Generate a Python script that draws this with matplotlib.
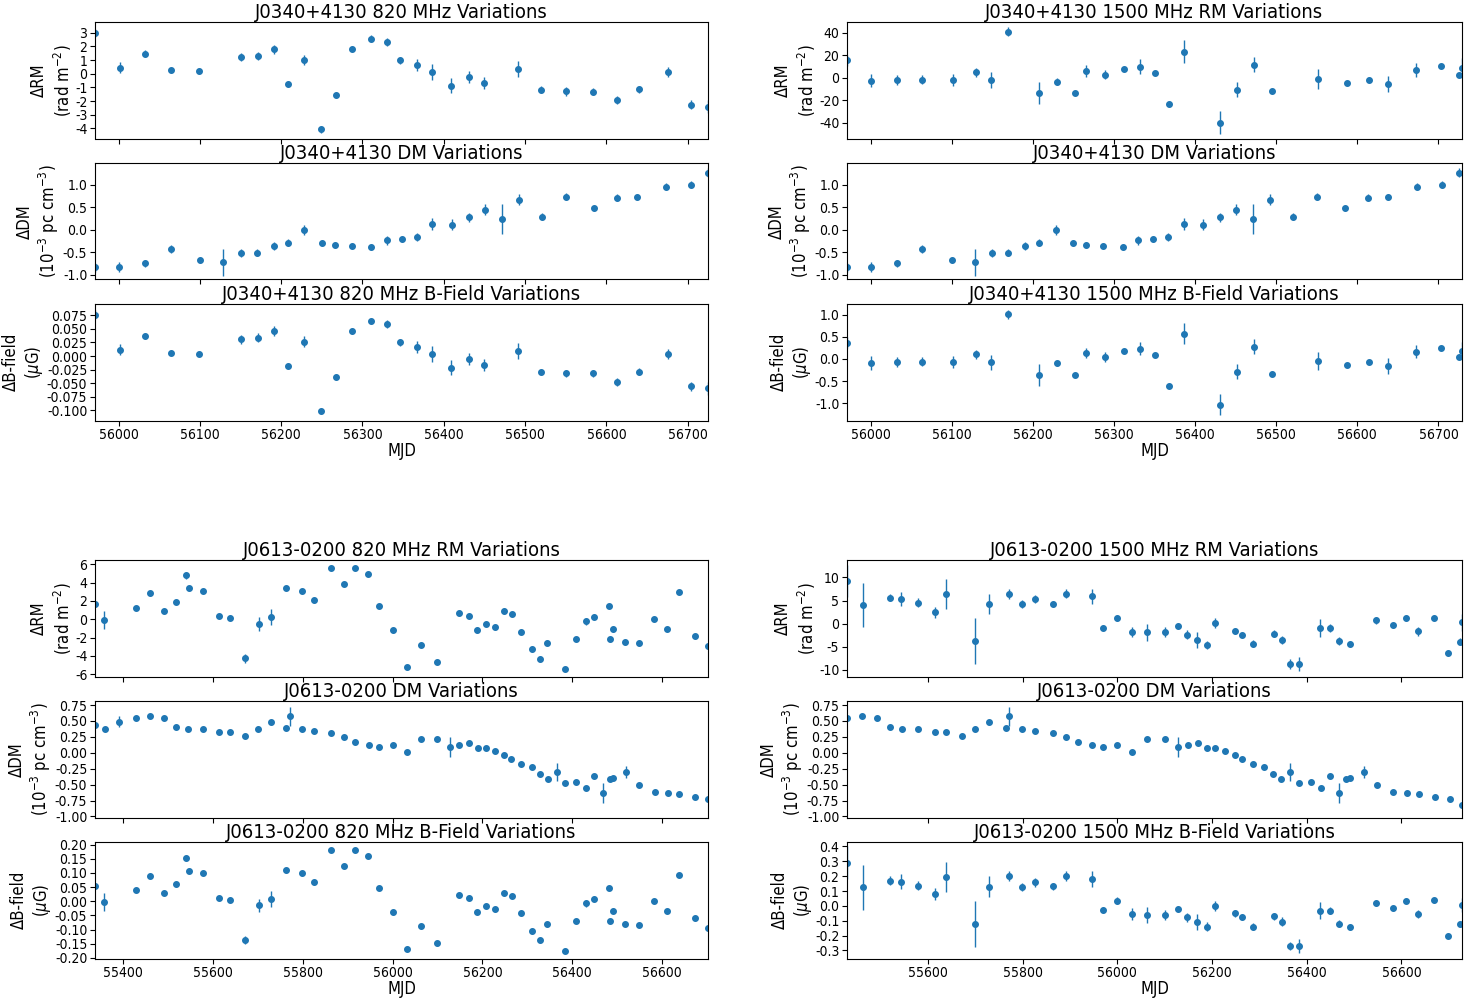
import numpy as np
import matplotlib
matplotlib.use("Agg")
import matplotlib.pyplot as plt
from matplotlib.ticker import MultipleLocator

plt.rcParams['font.family'] = ['DejaVu Sans']
plt.rcParams['font.stretch'] = 'condensed'
plt.rcParams['axes.unicode_minus'] = False

# ---- J0340+4130 ----
j0340_mjd_820 = [55971, 56002, 56032, 56064, 56099, 56150, 56171, 56191, 56208, 56228,
                 56249, 56267, 56287, 56311, 56330, 56346, 56367, 56385, 56409, 56431,
                 56449, 56491, 56519, 56550, 56584, 56613, 56640, 56676, 56704, 56725]
j0340_rm_820 = [3.0, 0.45, 1.47, 0.25, 0.18, 1.2, 1.3, 1.78, -0.75, 1.0,
                -4.06, -1.57, 1.83, 2.56, 2.34, 0.98, 0.64, 0.13, -0.87, -0.26,
                -0.7, 0.35, -1.18, -1.3, -1.33, -1.91, -1.14, 0.13, -2.26, -2.4]
j0340_rm_820_err = [0.3, 0.4, 0.25, 0.2, 0.2, 0.3, 0.3, 0.35, 0.25, 0.4,
                    0.25, 0.2, 0.2, 0.25, 0.3, 0.25, 0.45, 0.6, 0.55, 0.45,
                    0.45, 0.6, 0.25, 0.3, 0.25, 0.3, 0.25, 0.35, 0.35, 0.5]
j0340_b_820 = [0.076, 0.0117, 0.0367, 0.0063, 0.0044, 0.0306, 0.0336, 0.0458, -0.018, 0.0263,
               -0.1008, -0.0388, 0.0464, 0.0647, 0.0592, 0.025, 0.0172, 0.0038, -0.0211, -0.0059,
               -0.0168, 0.0093, -0.029, -0.032, -0.032, -0.048, -0.0284, 0.0038, -0.0558, -0.0588]
j0340_b_820_err = [0.008, 0.01, 0.006, 0.005, 0.005, 0.008, 0.008, 0.009, 0.006, 0.01,
                   0.006, 0.005, 0.005, 0.006, 0.008, 0.006, 0.011, 0.015, 0.014, 0.011,
                   0.011, 0.015, 0.006, 0.007, 0.006, 0.007, 0.006, 0.009, 0.009, 0.012]

j0340_mjd_dm = [55971, 56000, 56033, 56064, 56100, 56129, 56150, 56170, 56191, 56208,
                56228, 56250, 56266, 56287, 56311, 56330, 56348, 56367, 56386, 56410,
                56431, 56451, 56472, 56492, 56521, 56550, 56585, 56613, 56638, 56673,
                56704, 56725]
j0340_dm = [-0.84, -0.83, -0.75, -0.43, -0.68, -0.73, -0.52, -0.51, -0.37, -0.29,
            -0.01, -0.30, -0.34, -0.36, -0.39, -0.24, -0.21, -0.16, 0.12, 0.11,
            0.27, 0.44, 0.24, 0.66, 0.29, 0.73, 0.47, 0.71, 0.73, 0.95,
            1.00, 1.26]
j0340_dm_err = [0.1, 0.12, 0.08, 0.08, 0.07, 0.3, 0.08, 0.08, 0.09, 0.08,
                0.12, 0.07, 0.06, 0.06, 0.06, 0.1, 0.07, 0.09, 0.13, 0.12,
                0.1, 0.12, 0.33, 0.12, 0.08, 0.08, 0.06, 0.08, 0.07, 0.08,
                0.08, 0.1]

j0340_mjd_1500 = [55971, 56000, 56033, 56064, 56102, 56130, 56149, 56170, 56208, 56230,
                  56252, 56266, 56289, 56312, 56332, 56350, 56368, 56386, 56431, 56452,
                  56473, 56495, 56551, 56587, 56614, 56638, 56672, 56703, 56725, 56729]
j0340_rm_1500 = [15.4, -2.7, -2.1, -1.8, -2.1, 4.7, -2.4, 40.9, -13.6, -3.6,
                 -13.9, 5.9, 2.7, 7.7, 9.8, 3.9, -23.4, 23.1, -40.0, -10.7,
                 11.6, -12.1, -1.5, -4.7, -1.8, -5.6, 6.8, 10.4, 2.1, 8.3]
j0340_rm_1500_err = [5, 6, 4.5, 4, 5, 4, 7, 4, 10, 3,
                     2, 5, 4, 2, 6.5, 2, 2.5, 10, 10, 7,
                     7, 2, 9, 2, 2, 7, 6, 2, 2, 9]
j0340_b_1500 = [0.37, -0.09, -0.07, -0.06, -0.07, 0.10, -0.08, 1.01, -0.36, -0.10,
                -0.37, 0.13, 0.05, 0.18, 0.23, 0.08, -0.60, 0.57, -1.03, -0.29,
                0.27, -0.33, -0.05, -0.14, -0.06, -0.16, 0.16, 0.25, 0.04, 0.19]
j0340_b_1500_err = [0.13, 0.15, 0.12, 0.1, 0.13, 0.1, 0.17, 0.1, 0.25, 0.05,
                    0.04, 0.12, 0.11, 0.05, 0.15, 0.04, 0.06, 0.24, 0.24, 0.17,
                    0.17, 0.05, 0.2, 0.05, 0.04, 0.17, 0.15, 0.05, 0.05, 0.2]

# ---- J0613-0200 ----
j0613_mjd_820 = [55338, 55359, 55429, 55461, 55492, 55519, 55541, 55548, 55578, 55615,
                 55639, 55672, 55702, 55729, 55763, 55799, 55826, 55863, 55891, 55917,
                 55946, 55969, 56001, 56032, 56063, 56099, 56149, 56170, 56189, 56207,
                 56227, 56248, 56266, 56286, 56310, 56329, 56344, 56384, 56408, 56430,
                 56449, 56482, 56484, 56490, 56517, 56549, 56581, 56611, 56638, 56673,
                 56702]
j0613_rm_820 = [1.65, -0.1, 1.24, 2.82, 0.88, 1.87, 4.79, 3.37, 3.11, 0.37,
                0.18, -4.28, -0.48, 0.22, 3.44, 3.07, 2.08, 5.63, 3.91, 5.63,
                4.94, 1.43, -1.21, -5.27, -2.78, -4.65, 0.69, 0.40, -1.17, -0.51,
                -0.88, 0.88, 0.58, -1.35, -3.26, -4.32, -2.56, -5.45, -2.16, -0.22,
                0.29, 1.46, -2.20, -1.06, -2.53, -2.64, 0.04, -1.06, 2.93, -1.87,
                -2.93]
j0613_rm_820_err = [0.3, 1.0, 0.25, 0.3, 0.25, 0.25, 0.35, 0.3, 0.25, 0.25,
                    0.25, 0.45, 0.75, 0.9, 0.25, 0.25, 0.25, 0.2, 0.2, 0.2,
                    0.2, 0.25, 0.3, 0.3, 0.3, 0.25, 0.3, 0.3, 0.3, 0.25,
                    0.3, 0.3, 0.25, 0.3, 0.35, 0.3, 0.3, 0.25, 0.25, 0.4,
                    0.25, 0.25, 0.25, 0.3, 0.25, 0.25, 0.25, 0.25, 0.2, 0.25,
                    0.3]
j0613_b_820 = [0.054, -0.002, 0.04, 0.09, 0.029, 0.06, 0.152, 0.108, 0.1, 0.012,
               0.006, -0.138, -0.015, 0.007, 0.109, 0.098, 0.067, 0.18, 0.125, 0.18,
               0.158, 0.046, -0.039, -0.168, -0.089, -0.149, 0.022, 0.013, -0.037, -0.016,
               -0.028, 0.028, 0.019, -0.043, -0.104, -0.138, -0.082, -0.174, -0.069, -0.007,
               0.009, 0.047, -0.07, -0.034, -0.081, -0.084, 0.001, -0.034, 0.094, -0.06,
               -0.094]
j0613_b_820_err = [0.009, 0.032, 0.008, 0.009, 0.008, 0.008, 0.011, 0.009, 0.008, 0.008,
                   0.008, 0.014, 0.024, 0.029, 0.008, 0.008, 0.008, 0.006, 0.006, 0.006,
                   0.006, 0.008, 0.009, 0.009, 0.009, 0.008, 0.009, 0.009, 0.009, 0.008,
                   0.009, 0.009, 0.008, 0.009, 0.011, 0.009, 0.009, 0.008, 0.008, 0.012,
                   0.008, 0.008, 0.008, 0.009, 0.008, 0.008, 0.008, 0.008, 0.006, 0.008,
                   0.009]

j0613_mjd_dm = [55338, 55361, 55392, 55429, 55461, 55492, 55519, 55545, 55578, 55615,
                55639, 55672, 55700, 55729, 55764, 55772, 55799, 55826, 55864, 55891,
                55917, 55947, 55970, 56000, 56032, 56063, 56100, 56128, 56149, 56170,
                56190, 56207, 56228, 56248, 56264, 56286, 56310, 56329, 56346, 56365,
                56384, 56409, 56430, 56449, 56469, 56484, 56491, 56520, 56549, 56583,
                56612, 56637, 56672, 56702, 56728]
j0613_dm = [0.43, 0.38, 0.49, 0.55, 0.57, 0.54, 0.41, 0.37, 0.38, 0.32,
            0.33, 0.26, 0.38, 0.48, 0.39, 0.57, 0.37, 0.34, 0.31, 0.24,
            0.17, 0.13, 0.09, 0.12, 0.02, 0.21, 0.21, 0.09, 0.12, 0.15,
            0.07, 0.07, 0.03, -0.03, -0.10, -0.17, -0.22, -0.33, -0.41, -0.30,
            -0.48, -0.46, -0.55, -0.37, -0.63, -0.41, -0.40, -0.30, -0.51, -0.61,
            -0.63, -0.65, -0.70, -0.72, -0.82]
j0613_dm_err = [0.03, 0.03, 0.08, 0.03, 0.03, 0.03, 0.03, 0.03, 0.03, 0.03,
                0.03, 0.03, 0.04, 0.04, 0.03, 0.15, 0.03, 0.03, 0.03, 0.03,
                0.03, 0.03, 0.03, 0.03, 0.03, 0.03, 0.03, 0.15, 0.03, 0.03,
                0.03, 0.03, 0.03, 0.03, 0.03, 0.03, 0.03, 0.03, 0.03, 0.14,
                0.03, 0.03, 0.03, 0.03, 0.16, 0.03, 0.03, 0.10, 0.03, 0.03,
                0.03, 0.03, 0.03, 0.03, 0.04]

j0613_mjd_1500 = [55429, 55462, 55519, 55544, 55579, 55615, 55639, 55699, 55729, 55772,
                  55799, 55826, 55864, 55891, 55947, 55970, 55999, 56032, 56063, 56100,
                  56128, 56148, 56169, 56190, 56207, 56249, 56264, 56286, 56330, 56347,
                  56365, 56384, 56429, 56450, 56469, 56491, 56547, 56583, 56610, 56635,
                  56669, 56699, 56724, 56728]
j0613_rm_1500 = [9.2, 4.1, 5.6, 5.3, 4.5, 2.5, 6.4, -3.8, 4.3, 6.5,
                 4.2, 5.3, 4.3, 6.5, 5.9, -0.9, 1.2, -1.8, -1.9, -1.9,
                 -0.55, -2.4, -3.6, -4.6, 0.1, -1.6, -2.4, -4.4, -2.2, -3.5,
                 -8.8, -8.8, -1.0, -1.0, -3.8, -4.5, 0.7, -0.4, 1.2, -1.7,
                 1.3, -6.4, -3.9, 0.25]
j0613_rm_1500_err = [3.5, 4.8, 0.8, 1.5, 1.0, 1.2, 3.2, 5.0, 2.2, 1.1,
                     0.9, 0.8, 0.6, 0.9, 1.7, 0.5, 0.7, 1.1, 1.8, 1.1,
                     0.6, 0.9, 1.8, 0.9, 1.0, 0.7, 0.6, 0.8, 0.8, 0.9,
                     1.0, 1.5, 1.9, 0.8, 0.9, 0.7, 0.7, 0.6, 0.6, 0.9,
                     0.6, 0.6, 0.8, 1.8]
j0613_b_1500 = [0.29, 0.125, 0.17, 0.163, 0.136, 0.078, 0.194, -0.12, 0.13, 0.2,
                0.127, 0.16, 0.132, 0.2, 0.18, -0.03, 0.035, -0.056, -0.06, -0.06,
                -0.019, -0.077, -0.11, -0.14, -0.002, -0.05, -0.077, -0.14, -0.07, -0.108,
                -0.27, -0.27, -0.032, -0.032, -0.12, -0.14, 0.02, -0.016, 0.035, -0.054,
                0.037, -0.2, -0.122, 0.006]
j0613_b_1500_err = [0.11, 0.15, 0.03, 0.05, 0.03, 0.04, 0.1, 0.155, 0.07, 0.035,
                    0.03, 0.03, 0.025, 0.035, 0.055, 0.02, 0.025, 0.04, 0.055, 0.035,
                    0.02, 0.03, 0.055, 0.03, 0.035, 0.025, 0.02, 0.025, 0.025, 0.03,
                    0.03, 0.05, 0.055, 0.025, 0.025, 0.02, 0.02, 0.015, 0.015, 0.025,
                    0.015, 0.015, 0.02, 0.05]

RM_LABEL = "ΔRM\n(rad m$^{-2}$)"
DM_LABEL = "ΔDM\n(10$^{-3}$ pc cm$^{-3}$)"
B_LABEL = "ΔB-field\n($\\mu$G)"

W, H = 1481, 998
fig = plt.figure(figsize=(W / 100, H / 100), dpi=100)


def add_panel(left, top, width, height=116.5):
    return fig.add_axes([left / W, 1 - (top + height) / H, width / W, height / H])


def plot_series(ax, mjd, val, err, xlim, ylim, ystep, xstep, title, ylabel, show_x=False):
    ax.errorbar(mjd, val, yerr=err, fmt='o', ms=4, color='C0', elinewidth=1, capsize=0)
    ax.set_xlim(*xlim)
    ax.set_ylim(*ylim)
    ax.yaxis.set_major_locator(MultipleLocator(ystep))
    ax.xaxis.set_major_locator(MultipleLocator(xstep))
    ax.set_title(title, fontsize=14.5, pad=2)
    ax.set_ylabel(ylabel, fontsize=12, labelpad=1)
    ax.tick_params(labelsize=10, pad=2)
    if show_x:
        ax.set_xlabel("MJD", fontsize=12, labelpad=0)
    else:
        ax.tick_params(labelbottom=False)


left_x, right_x = 95, 847
left_w, right_w = 613, 615
tops = [22, 163, 304, 560, 701, 842]

top_left_lim = (55971, 56725)
top_right_lim = (55971, 56729)
bot_left_lim = (55338, 56702)
bot_right_lim = (55429, 56728)

# J0340+4130, 820 MHz column
ax = add_panel(left_x, tops[0], left_w)
plot_series(ax, j0340_mjd_820, j0340_rm_820, j0340_rm_820_err, top_left_lim,
            (-4.74, 3.78), 1, 100, "J0340+4130 820 MHz Variations", RM_LABEL)
ax = add_panel(left_x, tops[1], left_w)
plot_series(ax, j0340_mjd_dm, j0340_dm, j0340_dm_err, top_left_lim,
            (-1.11, 1.48), 0.5, 100, "J0340+4130 DM Variations", DM_LABEL)
ax = add_panel(left_x, tops[2], left_w)
plot_series(ax, j0340_mjd_820, j0340_b_820, j0340_b_820_err, top_left_lim,
            (-0.1184, 0.0957), 0.025, 100, "J0340+4130 820 MHz B-Field Variations",
            B_LABEL, show_x=True)

# J0340+4130, 1500 MHz column
ax = add_panel(right_x, tops[0], right_w)
plot_series(ax, j0340_mjd_1500, j0340_rm_1500, j0340_rm_1500_err, top_right_lim,
            (-54.2, 49.5), 20, 100, "J0340+4130 1500 MHz RM Variations", RM_LABEL)
ax = add_panel(right_x, tops[1], right_w)
plot_series(ax, j0340_mjd_dm, j0340_dm, j0340_dm_err, top_right_lim,
            (-1.11, 1.48), 0.5, 100, "J0340+4130 DM Variations", DM_LABEL)
ax = add_panel(right_x, tops[2], right_w)
plot_series(ax, j0340_mjd_1500, j0340_b_1500, j0340_b_1500_err, top_right_lim,
            (-1.39, 1.24), 0.5, 100, "J0340+4130 1500 MHz B-Field Variations",
            B_LABEL, show_x=True)

# J0613-0200, 820 MHz column
ax = add_panel(left_x, tops[3], left_w)
plot_series(ax, j0613_mjd_820, j0613_rm_820, j0613_rm_820_err, bot_left_lim,
            (-6.26, 6.48), 2, 200, "J0613-0200 820 MHz RM Variations", RM_LABEL)
ax = add_panel(left_x, tops[4], left_w)
plot_series(ax, j0613_mjd_dm, j0613_dm, j0613_dm_err, bot_left_lim,
            (-1.016, 0.813), 0.25, 200, "J0613-0200 DM Variations", DM_LABEL)
ax = add_panel(left_x, tops[5], left_w)
plot_series(ax, j0613_mjd_820, j0613_b_820, j0613_b_820_err, bot_left_lim,
            (-0.202, 0.209), 0.05, 200, "J0613-0200 820 MHz B-Field Variations",
            B_LABEL, show_x=True)

# J0613-0200, 1500 MHz column
ax = add_panel(right_x, tops[3], right_w)
plot_series(ax, j0613_mjd_1500, j0613_rm_1500, j0613_rm_1500_err, bot_right_lim,
            (-11.5, 13.8), 5, 200, "J0613-0200 1500 MHz RM Variations", RM_LABEL)
ax = add_panel(right_x, tops[4], right_w)
plot_series(ax, j0613_mjd_dm, j0613_dm, j0613_dm_err, bot_right_lim,
            (-1.016, 0.813), 0.25, 200, "J0613-0200 DM Variations", DM_LABEL)
ax = add_panel(right_x, tops[5], right_w)
plot_series(ax, j0613_mjd_1500, j0613_b_1500, j0613_b_1500_err, bot_right_lim,
            (-0.354, 0.43), 0.1, 200, "J0613-0200 1500 MHz B-Field Variations",
            B_LABEL, show_x=True)

fig.savefig("out.png", dpi=100)
